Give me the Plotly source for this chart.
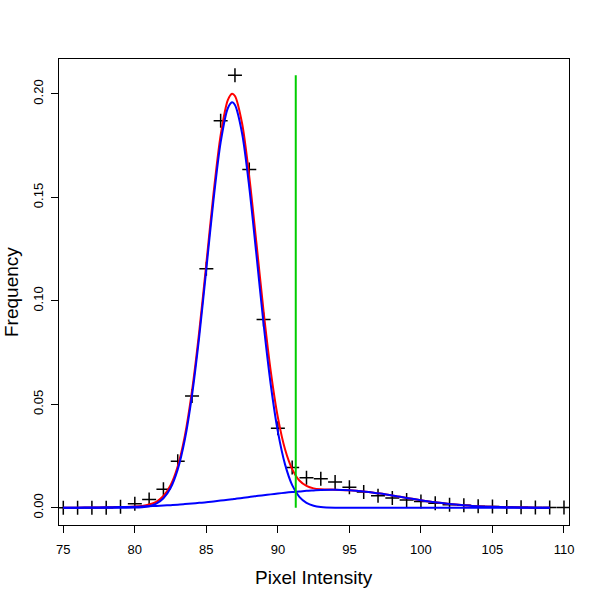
import plotly.graph_objects as go

# Observed histogram frequencies (points)
pixel_x = list(range(75, 111))
frequency = [0.0, 0.0, 0.0, 0.0, 0.0005, 0.002, 0.004, 0.009, 0.0225, 0.054,
             0.1155, 0.187, 0.209, 0.1635, 0.091, 0.0385, 0.0195, 0.0145, 0.014, 0.0125,
             0.010, 0.0077, 0.0058, 0.0048, 0.0038, 0.003, 0.0022, 0.0015, 0.0012, 0.0008,
             0.0006, 0.0004, 0.0003, 0.0002, 0.0001, 0.0001]

# Fitted curves
curve_x = [75, 76, 77, 78, 79, 80, 80.5, 81, 81.5, 82, 82.5, 83, 83.5, 84, 84.5,
           85, 85.5, 86, 86.5, 86.8, 87, 87.5, 88, 88.5, 89, 89.5, 90, 90.5, 91,
           91.5, 92, 92.5, 93, 94, 95, 96, 97, 98, 99, 100, 101, 102, 103, 104,
           105, 106, 107, 108, 109]
component1 = [0, 0, 0, 0, 0.00001, 0.0001, 0.0003, 0.0008, 0.0020, 0.0046, 0.0096,
              0.0186, 0.0331, 0.0545, 0.0826, 0.1155, 0.1487, 0.1766, 0.1931, 0.196,
              0.1947, 0.1809, 0.1549, 0.1223, 0.0889, 0.0596, 0.0368, 0.0210, 0.0110,
              0.0053, 0.0024, 0.0010, 0.0004, 0.00004, 0, 0, 0, 0, 0, 0, 0, 0, 0, 0,
              0, 0, 0, 0, 0]
component2 = [0.00005, 0.00008, 0.00014, 0.00022, 0.00034, 0.00052, 0.00064, 0.00077,
              0.00093, 0.0011, 0.0013, 0.0015, 0.0018, 0.0021, 0.0024, 0.0027, 0.0031,
              0.0035, 0.0039, 0.0041, 0.0043, 0.0048, 0.0052, 0.0057, 0.0061, 0.0065,
              0.0069, 0.0073, 0.00765, 0.0079, 0.0082, 0.0084, 0.0086, 0.0087, 0.0085,
              0.0079, 0.0070, 0.0060, 0.0048, 0.0037, 0.0027, 0.0019, 0.0013, 0.0008,
              0.0005, 0.0003, 0.00016, 0.00008, 0.00004]
mixture = [0.00005, 0.00008, 0.00014, 0.00022, 0.00035, 0.00062, 0.00094, 0.0016,
           0.0029, 0.0057, 0.0109, 0.0201, 0.0349, 0.0566, 0.0850, 0.1182, 0.1518,
           0.1801, 0.1970, 0.2001, 0.1990, 0.1857, 0.1601, 0.1280, 0.0950, 0.0661,
           0.0437, 0.0283, 0.0187, 0.0132, 0.0106, 0.0094, 0.0090, 0.00874, 0.0085,
           0.0079, 0.0070, 0.0060, 0.0048, 0.0037, 0.0027, 0.0019, 0.0013, 0.0008,
           0.0005, 0.0003, 0.00016, 0.00008, 0.00004]

threshold_x = [91.25, 91.25]
threshold_y = [0.0, 0.209]

x_ticks = [75, 80, 85, 90, 95, 100, 105, 110]
y_ticks = [0.00, 0.05, 0.10, 0.15, 0.20]

FONT = "Liberation Sans, Arial, sans-serif"

fig = go.Figure()
fig.add_trace(go.Scatter(x=pixel_x, y=frequency, mode="markers",
                         marker=dict(symbol="cross-thin", size=10, color="black",
                                     line=dict(color="black", width=1.5)),
                         showlegend=False))
fig.add_trace(go.Scatter(x=curve_x, y=mixture, mode="lines",
                         line=dict(color="#FF0000", width=2, shape="spline", smoothing=0.8),
                         showlegend=False))
fig.add_trace(go.Scatter(x=curve_x, y=component1, mode="lines",
                         line=dict(color="#0000FF", width=2, shape="spline", smoothing=0.8),
                         showlegend=False))
fig.add_trace(go.Scatter(x=curve_x, y=component2, mode="lines",
                         line=dict(color="#0000FF", width=2, shape="spline", smoothing=0.8),
                         showlegend=False))
fig.add_trace(go.Scatter(x=threshold_x, y=threshold_y, mode="lines",
                         line=dict(color="#00CD00", width=2),
                         showlegend=False))

axis_common = dict(showgrid=False, zeroline=False, showline=True, mirror=True,
                   linecolor="black", linewidth=1, ticks="outside", ticklen=7,
                   tickwidth=1, tickcolor="black", automargin=False,
                   tickfont=dict(family=FONT, size=13, color="black"))

ML, MT, MR, MB = 59, 59, 31, 75
fig.update_layout(
    width=600, height=600,
    margin=dict(l=ML, r=MR, t=MT, b=MB),
    paper_bgcolor="white", plot_bgcolor="white",
    hovermode=False,
    xaxis=dict(range=[74.70, 110.35], tickvals=x_ticks, ticklabelstandoff=5,
               **axis_common),
    yaxis=dict(range=[-0.0083, 0.2169], tickvals=y_ticks, tickformat=".2f",
               tickangle=-90, ticklabelstandoff=3, **axis_common),
)

plot_h = 600 - MT - MB
plot_w = 600 - ML - MR
left_px, bottom_px = ML, 600 - MB
fig.add_annotation(text="Pixel Intensity", xref="paper", yref="paper",
                   x=0.5, y=(bottom_px - 577) / plot_h,
                   xanchor="center", yanchor="middle", showarrow=False,
                   font=dict(family=FONT, size=19, color="black"))
fig.add_annotation(text="Frequency", xref="paper", yref="paper",
                   x=(11 - left_px) / plot_w, y=0.5, textangle=-90,
                   xanchor="center", yanchor="middle", showarrow=False,
                   font=dict(family=FONT, size=19, color="black"))

fig.write_html("out.html", config={"displayModeBar": False},
               post_script="document.body.style.margin='0';")
